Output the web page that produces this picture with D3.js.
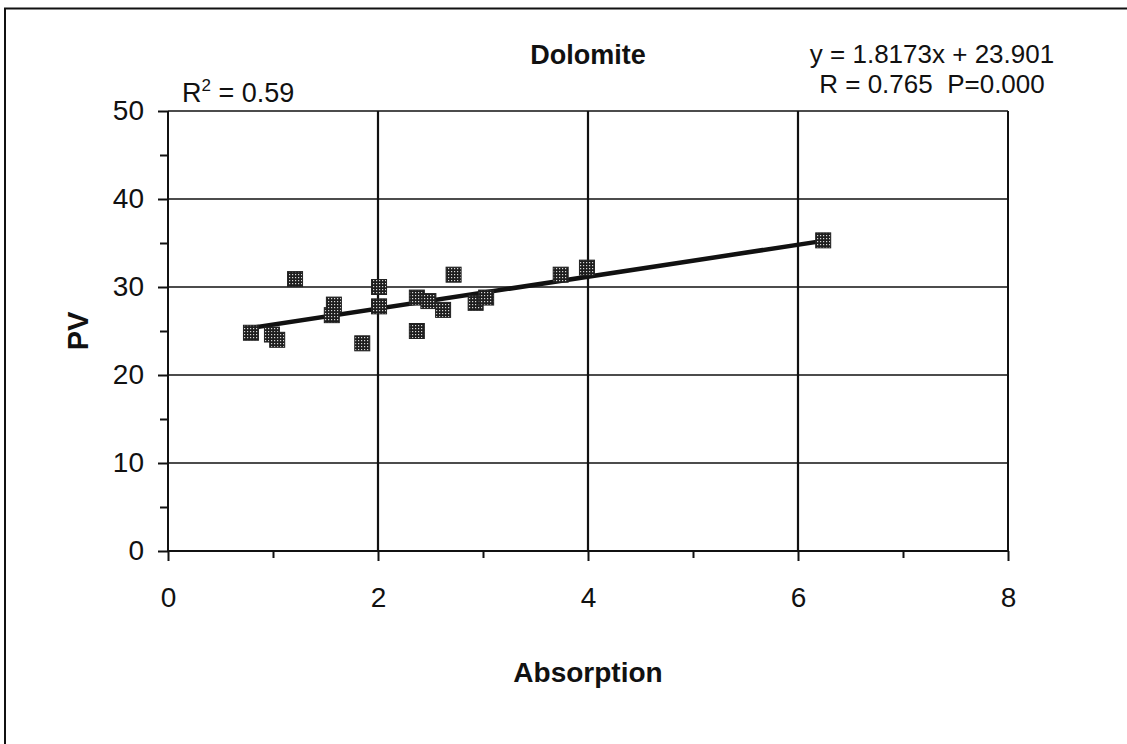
<!DOCTYPE html>
<html>
<head>
<meta charset="utf-8">
<script src="https://cdn.jsdelivr.net/npm/d3@7"></script>
<style>
  html, body { margin: 0; padding: 0; background: #fff; }
  svg { display: block; }
  text { font-family: "Liberation Sans", Arial, sans-serif; fill: #111; }
</style>
</head>
<body>
<svg id="chart" width="1127" height="744"></svg>
<script>
// Absorption (x) and PV (y) for the dolomite samples
const absorption = [0.79, 0.99, 1.04, 1.21, 1.56, 1.58, 1.85, 2.01, 2.01, 2.37,
                    2.37, 2.48, 2.62, 2.72, 2.93, 3.03, 3.74, 3.99, 6.24];
const pv         = [24.8, 24.6, 24.0, 30.9, 26.8, 28.0, 23.6, 30.0, 27.8, 28.8,
                    25.0, 28.4, 27.4, 31.4, 28.2, 28.8, 31.4, 32.2, 35.3];

// Fitted line and statistics
const slope = 1.8173;
const intercept = 23.901;
const eqLines = ["y = 1.8173x + 23.901", "R = 0.765  P=0.000"];
const r2Label = ["R", "2", " = 0.59"];

// Axis ticks
const xMajorTicks = [0, 2, 4, 6, 8];
const xMinorTicks = [1, 3, 5, 7];
const yMajorTicks = [0, 10, 20, 30, 40, 50];
const yMinorTicks = [5, 15, 25, 35, 45];

const svg = d3.select("#chart");

const plot = { left: 168, right: 1008, top: 111, bottom: 551 };
const x = d3.scaleLinear().domain([0, 8]).range([plot.left, plot.right]);
const y = d3.scaleLinear().domain([0, 50]).range([plot.bottom, plot.top]);

// Outer frame
svg.append("rect")
  .attr("x", 5).attr("y", 8.5)
  .attr("width", 1140).attr("height", 760)
  .attr("fill", "none").attr("stroke", "#111").attr("stroke-width", 2);

// Marker fill: dark halftone with light dots
const defs = svg.append("defs");
const pat = defs.append("pattern")
  .attr("id", "dots").attr("patternUnits", "userSpaceOnUse")
  .attr("width", 3).attr("height", 3);
pat.append("rect").attr("width", 3).attr("height", 3).attr("fill", "#1e1e1e");
pat.append("rect").attr("x", 1).attr("y", 1).attr("width", 1.2).attr("height", 1.2).attr("fill", "#d8d8d8");

// Gridlines
const grid = svg.append("g").attr("stroke", "#111").attr("stroke-width", 1.6);
grid.selectAll("line.h").data(yMajorTicks.filter(d => d > 0)).join("line")
  .attr("x1", x(0)).attr("x2", x(8))
  .attr("y1", d => y(d)).attr("y2", d => y(d));
grid.selectAll("line.v").data(xMajorTicks.filter(d => d > 0)).join("line")
  .attr("y1", y(0)).attr("y2", y(50))
  .attr("x1", d => x(d)).attr("x2", d => x(d))
  .attr("stroke-width", d => d === 8 ? 2 : 2.2);

// Axes
function styleAxis(g) {
  g.select(".domain").remove();
  g.selectAll(".tick line").attr("stroke", "#111").attr("stroke-width", 2);
  g.selectAll(".tick text")
    .style("font-family", '"Liberation Sans", Arial, sans-serif')
    .style("font-size", "28px").attr("fill", "#111");
}

svg.append("g").attr("transform", `translate(0,${plot.bottom})`)
  .call(d3.axisBottom(x).tickValues(xMajorTicks).tickSize(10).tickPadding(26).tickFormat(d3.format("d")))
  .call(styleAxis);
svg.append("g").attr("transform", `translate(0,${plot.bottom})`)
  .call(d3.axisBottom(x).tickValues(xMinorTicks).tickSize(7).tickFormat(""))
  .call(styleAxis);
svg.append("g").attr("transform", `translate(${plot.left},0)`)
  .call(d3.axisLeft(y).tickValues(yMajorTicks).tickSize(10).tickPadding(14).tickFormat(d3.format("d")))
  .call(styleAxis);
svg.append("g").attr("transform", `translate(${plot.left},0)`)
  .call(d3.axisLeft(y).tickValues(yMinorTicks).tickSize(8).tickFormat(""))
  .call(styleAxis);

// Axis lines
svg.append("line").attr("x1", x(0)).attr("x2", x(8)).attr("y1", y(0)).attr("y2", y(0))
  .attr("stroke", "#111").attr("stroke-width", 2);
svg.append("line").attr("x1", x(0)).attr("x2", x(0)).attr("y1", y(0)).attr("y2", y(50))
  .attr("stroke", "#111").attr("stroke-width", 2);

// Regression line across the data range
const xMin = d3.min(absorption), xMax = d3.max(absorption);
svg.append("line")
  .attr("x1", x(xMin)).attr("y1", y(slope * xMin + intercept))
  .attr("x2", x(xMax - 0.03)).attr("y2", y(slope * (xMax - 0.03) + intercept))
  .attr("stroke", "#111").attr("stroke-width", 4.5).attr("stroke-linecap", "round");

// Points
const pts = absorption.map((a, i) => ({ a, p: pv[i] }));
const s = 15;
svg.append("g").selectAll("rect").data(pts).join("rect")
  .attr("x", d => x(d.a) - s / 2).attr("y", d => y(d.p) - s / 2)
  .attr("width", s).attr("height", s)
  .attr("fill", "url(#dots)").attr("stroke", "#222").attr("stroke-width", 1);

// Title
svg.append("text").attr("x", 588).attr("y", 64)
  .attr("text-anchor", "middle").style("font-size", "27px").style("font-weight", "bold")
  .text("Dolomite");

// Regression equation and statistics
svg.append("g").selectAll("text").data(eqLines).join("text")
  .attr("x", 932).attr("y", (d, i) => 63 + i * 30)
  .attr("text-anchor", "middle").style("font-size", "26px")
  .style("white-space", "pre")
  .text(d => d);

// R-squared
const r2 = svg.append("text").attr("x", 182).attr("y", 102).style("font-size", "27px");
r2.append("tspan").text(r2Label[0]);
r2.append("tspan").attr("dy", -11).style("font-size", "17px").text(r2Label[1]);
r2.append("tspan").attr("dy", 11).text(r2Label[2]);

// Axis titles
svg.append("text").attr("x", 588).attr("y", 682)
  .attr("text-anchor", "middle").style("font-size", "28px").style("font-weight", "bold")
  .text("Absorption");
svg.append("text")
  .attr("transform", "translate(88,331) rotate(-90)")
  .attr("text-anchor", "middle").style("font-size", "29px").style("font-weight", "bold")
  .text("PV");
</script>
</body>
</html>
